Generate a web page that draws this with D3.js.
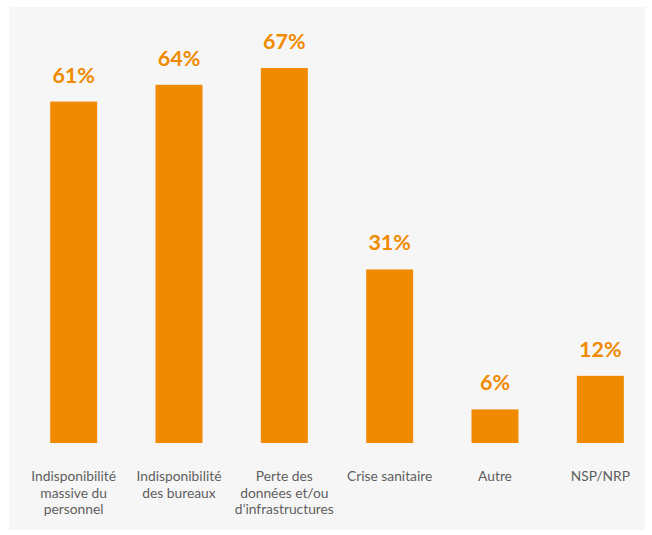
<!DOCTYPE html>
<html>
<head>
<meta charset="utf-8">
<script src="https://cdn.jsdelivr.net/npm/d3@7"></script>
<style>
  html, body { margin: 0; padding: 0; background: #ffffff; }
  svg { display: block; }
</style>
</head>
<body>
<script>
// Categories (each label split into its display lines) and percentages
const categories = [
  ["Indisponibilité", "massive du", "personnel"],
  ["Indisponibilité", "des bureaux"],
  ["Perte des", "données et/ou", "d’infrastructures"],
  ["Crise sanitaire"],
  ["Autre"],
  ["NSP/NRP"]
];
const values = [61, 64, 67, 31, 6, 12];

const W = 652, H = 535;
const orange = "#f08a00";

const svg = d3.select("body").append("svg")
  .attr("width", W).attr("height", H);

// light panel
svg.append("rect")
  .attr("x", 9).attr("y", 7)
  .attr("width", 636).attr("height", 523)
  .attr("fill", "#f6f6f6");

const ids = d3.range(values.length);
const x = d3.scaleBand()
  .domain(ids)
  .range([21, 653])
  .paddingInner(0.554)
  .paddingOuter(0.277);

const y = d3.scaleLinear()
  .domain([0, 67])
  .range([443, 68]);

// bars
svg.selectAll("rect.bar")
  .data(values)
  .join("rect")
  .attr("class", "bar")
  .attr("x", (d, i) => x(i))
  .attr("width", x.bandwidth())
  .attr("y", d => y(d))
  .attr("height", d => y(0) - y(d))
  .attr("fill", orange);

// value labels
svg.selectAll("text.val")
  .data(values)
  .join("text")
  .attr("class", "val")
  .attr("x", (d, i) => x(i) + x.bandwidth() / 2)
  .attr("y", d => y(d) - 19)
  .attr("text-anchor", "middle")
  .attr("font-family", "Lato, sans-serif")
  .attr("font-weight", 700)
  .attr("font-size", 21.5)
  .attr("fill", orange)
  .text(d => d + "%");

// category labels
const cat = svg.selectAll("text.cat")
  .data(categories)
  .join("text")
  .attr("class", "cat")
  .attr("x", (d, i) => x(i) + x.bandwidth() / 2)
  .attr("y", 481)
  .attr("text-anchor", "middle")
  .attr("font-family", "Lato, sans-serif")
  .attr("font-size", 13.8)
  .attr("fill", "#5e5e5e");

cat.each(function (lines, i) {
  const t = d3.select(this);
  const cx = x(i) + x.bandwidth() / 2;
  lines.forEach((ln, k) => {
    t.append("tspan")
      .attr("x", cx)
      .attr("dy", k === 0 ? 0 : 16.5)
      .text(ln);
  });
});
</script>
</body>
</html>
